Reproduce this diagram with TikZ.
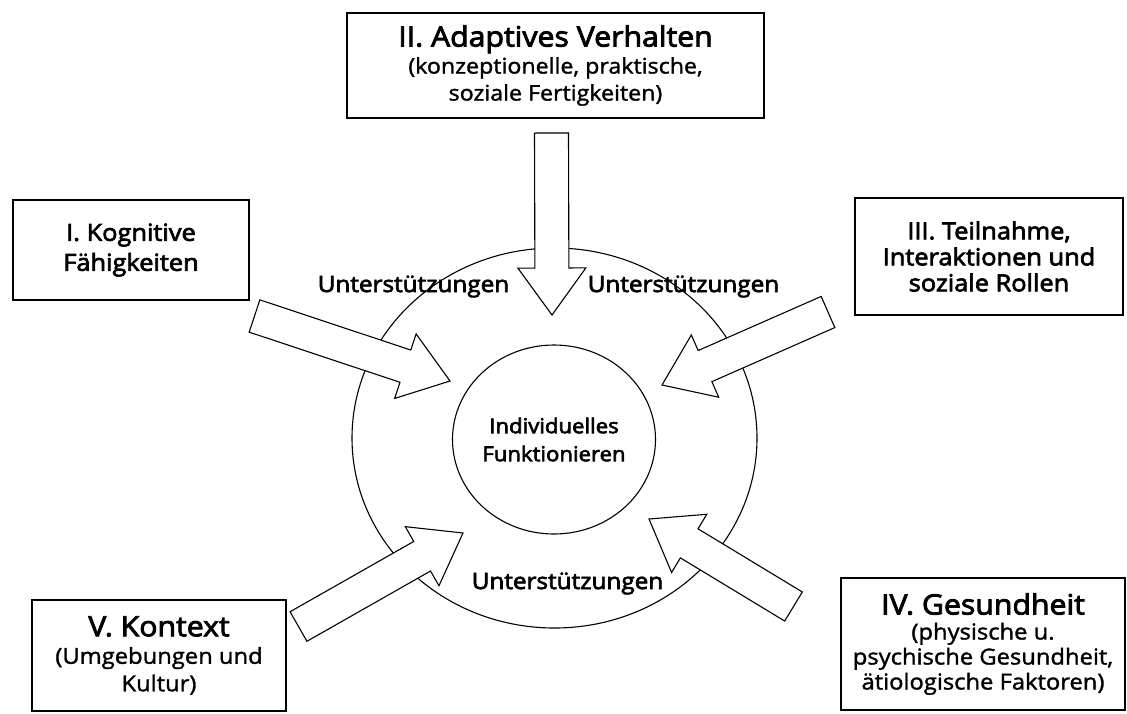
\documentclass[tikz,border=0pt]{standalone}
\usepackage{fontspec}
\setmainfont{Open Sans}[FakeStretch=1.08, FakeBold=1.5]
\newfontfamily\headfont{Open Sans}[FakeStretch=1.08, FakeBold=3]
\usetikzlibrary{calc,shapes.geometric}
\tikzset{
  box/.style={draw, line width=1.1pt, align=center, inner sep=0pt, fill=white},
  ring/.style={draw, ellipse, line width=1.1pt, inner sep=0pt, align=center},
  barrow/.style={draw, fill=white, line width=1.1pt, line join=miter},
  support/.style={font=\headfont\fontsize{22.5}{27}\selectfont, anchor=base, inner sep=0pt},
}
\newcommand{\blockarrow}[2]{%
  \coordinate (#1-h) at ($(#2)!47pt!(#1)$);
  \draw[barrow] ($(#1)!17pt!90:(#2)$) -- ($(#1-h)!17pt!90:(#2)$) -- ($(#1-h)!34pt!90:(#2)$) -- (#2)
     -- ($(#1-h)!34pt!-90:(#2)$) -- ($(#1-h)!17pt!-90:(#2)$) -- ($(#1)!17pt!-90:(#2)$) -- cycle;
}
\begin{document}
\begin{tikzpicture}[x=1pt, y=-1pt]
\useasboundingbox (0,0) rectangle (1127,713);

% rings
\node[ring, minimum width=405pt, minimum height=380pt] (outer) at (554.5,438) {};
\node[ring, minimum width=203pt, minimum height=189pt, font=\headfont\fontsize{20.5}{28}\selectfont] (inner) at (554,439.5) {Individuelles\\Funktionieren};

% boxes
\node[box, minimum width=236pt, minimum height=100pt, font=\headfont\fontsize{23.5}{30}\selectfont] (b1) at (131,250) {I. Kognitive\\Fähigkeiten};
\node[box, minimum width=417pt, minimum height=105pt, font=\fontsize{21.5}{27}\selectfont] (b2) at (555.5,65.5) {{\headfont\fontsize{28}{27}\selectfont II. Adaptives Verhalten}\\(konzeptionelle, praktische,\\soziale Fertigkeiten)};
\node[box, minimum width=268pt, minimum height=117pt, font=\headfont\fontsize{23.5}{26}\selectfont] (b3) at (989,256.5) {III. Teilnahme,\\Interaktionen und\\soziale Rollen};
\node[box, minimum width=284pt, minimum height=132pt, font=\fontsize{22}{25}\selectfont] (b4) at (983,644) {{\headfont\fontsize{28}{25}\selectfont IV. Gesundheit}\\(physische u.\\psychische Gesundheit,\\ätiologische Faktoren)};
\node[box, minimum width=254pt, minimum height=111pt, font=\fontsize{22}{27.5}\selectfont] (b5) at (159,655.5) {{\headfont\fontsize{28}{27.5}\selectfont V. Kontext}\\(Umgebungen und\\Kultur)};

% arrow ends
\coordinate (a1) at (254.5,316);  \coordinate (t1) at (450,381);
\coordinate (a2) at (551.5,133);  \coordinate (t2) at (552,315);
\coordinate (a3) at (828,312);    \coordinate (t3) at (662,385);
\coordinate (a4) at (793.5,606.5);\coordinate (t4) at (649,519);
\coordinate (a5) at (298.5,626.5);\coordinate (t5) at (463,533);

\blockarrow{a1}{t1}
\blockarrow{a2}{t2}
\blockarrow{a3}{t3}
\blockarrow{a4}{t4}
\blockarrow{a5}{t5}

% labels
\node[support] (u1) at (413.5,292) {Unterstützungen};
\node[support] (u2) at (683.5,292) {Unterstützungen};
\node[support] (u3) at (567.5,589) {Unterstützungen};
\end{tikzpicture}
\end{document}
